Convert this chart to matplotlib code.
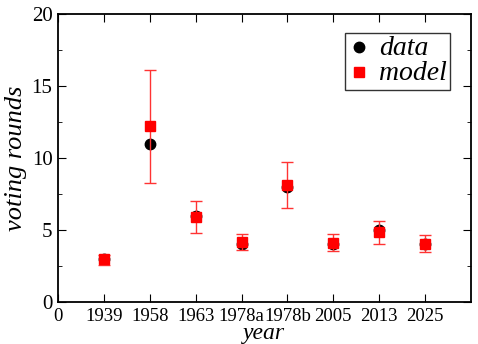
import matplotlib
matplotlib.use("Agg")
import matplotlib.pyplot as plt
import numpy as np
from matplotlib.lines import Line2D

years = ["1939", "1958", "1963", "1978a", "1978b", "2005", "2013", "2025"]
data_vals = [3, 11, 6, 4, 8, 4, 5, 4]
model_vals = [3.0, 12.2, 5.9, 4.15, 8.1, 4.12, 4.84, 4.02]
model_lo = [2.6, 8.3, 4.8, 3.6, 6.55, 3.57, 4.0, 3.45]
model_hi = [3.3, 16.1, 7.0, 4.75, 9.75, 4.7, 5.6, 4.68]

plt.rcParams['font.family'] = ['Liberation Serif', 'DejaVu Serif']

fig = plt.figure(figsize=(4.78, 3.44), dpi=100)
ax = fig.add_axes([0.1213, 0.122, 0.864, 0.837])

x = np.arange(1, len(years) + 1)
lo = np.array(model_vals) - np.array(model_lo)
hi = np.array(model_hi) - np.array(model_vals)

ax.plot(x, data_vals, 'o', color='black', markersize=7.5, label='data', zorder=3)
ax.errorbar(x, model_vals, yerr=[lo, hi], fmt='s', color='red', ecolor='#ff3333',
            markersize=6.5, elinewidth=1, capsize=4, capthick=1, label='model', zorder=4)

ax.set_xlim(0, 9)
ax.set_ylim(0, 20)
ax.set_xticks(np.arange(0, 9))
ax.set_xticklabels(["0"] + years)
ax.set_yticks([0, 5, 10, 15, 20])
ax.set_yticks(np.arange(0, 20.1, 2.5), minor=True)
ax.tick_params(axis='both', which='both', direction='in', top=True, right=True)
ax.tick_params(axis='both', which='major', length=6, labelsize=13.5, pad=4)
ax.tick_params(axis='y', which='major', labelsize=15)
ax.tick_params(axis='y', which='minor', length=3)
ax.tick_params(axis='x', which='minor', bottom=False, top=False)
for s in ax.spines.values():
    s.set_linewidth(1.3)

ax.set_xlabel('year', fontsize=17, fontstyle='italic', labelpad=-1.5)
ax.set_ylabel('voting rounds', fontsize=19, fontstyle='italic', labelpad=3)

h = [Line2D([], [], marker='o', color='black', linestyle='none', markersize=7.5),
     Line2D([], [], marker='s', color='red', linestyle='none', markersize=6.5)]
leg = ax.legend(h, ['data', 'model'], loc='upper right', bbox_to_anchor=(0.949, 0.934),
                prop={'style': 'italic', 'size': 20}, fancybox=False, edgecolor='black',
                handletextpad=0.3, handlelength=0.8, borderpad=0.12, labelspacing=0.0,
                borderaxespad=0, handleheight=0.5)
leg.get_frame().set_linewidth(1.0)

fig.savefig('out.png', dpi=100)
